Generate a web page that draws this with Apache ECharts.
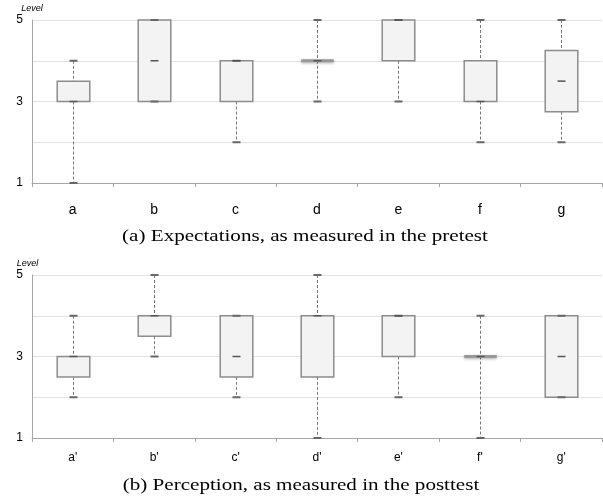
<!DOCTYPE html>
<html>
<head>
<meta charset="utf-8">
<script src="https://cdn.jsdelivr.net/npm/echarts@6/dist/echarts.min.js"></script>
<style>
  html, body { margin: 0; padding: 0; background: #fff; }
  #chart { width: 603px; height: 503px; }
</style>
</head>
<body>
<div id="chart"></div>
<script>
// pretest (expectations)
var preCats = ['a', 'b', 'c', 'd', 'e', 'f', 'g'];
var preMin = [1, 3, 2, 3, 3, 2, 2];
var preQ1 = [3, 3, 3, 4, 4, 3, 2.75];
var preMedian = [3, 4, 4, 4, 5, 3, 3.5];
var preQ3 = [3.5, 5, 4, 4, 5, 4, 4.25];
var preMax = [4, 5, 4, 5, 5, 5, 5];

// posttest (perception)
var postCats = ["a'", "b'", "c'", "d'", "e'", "f'", "g'"];
var postMin = [2, 3, 2, 1, 2, 1, 2];
var postQ1 = [2.5, 3.5, 2.5, 2.5, 3, 3, 2];
var postMedian = [3, 4, 3, 4, 4, 3, 3];
var postQ3 = [3, 4, 4, 4, 4, 3, 4];
var postMax = [4, 5, 4, 5, 4, 4, 4];

var levelTicks = [1, 3, 5];

function rows(mn, q1, md, q3, mx) {
  return mn.map(function (v, i) { return [i, mn[i], q1[i], md[i], q3[i], mx[i]]; });
}

function renderBox(params, api) {
  var x = api.value(0);
  var pMin = api.coord([x, api.value(1)]);
  var pQ1 = api.coord([x, api.value(2)]);
  var pMed = api.coord([x, api.value(3)]);
  var pQ3 = api.coord([x, api.value(4)]);
  var pMax = api.coord([x, api.value(5)]);
  var cx = Math.round(pMed[0]) + 0.5;
  var bw = api.size([1, 0])[0] * 0.4;
  var half = 4;
  var dash = { stroke: '#777', lineWidth: 1, lineDash: [3, 2] };
  var kids = [];
  if (pMax[1] < pQ3[1]) {
    kids.push({ type: 'line', shape: { x1: cx, y1: pMax[1], x2: cx, y2: pQ3[1] }, style: dash });
  }
  if (pMin[1] > pQ1[1]) {
    kids.push({ type: 'line', shape: { x1: cx, y1: pQ1[1], x2: cx, y2: pMin[1] }, style: dash });
  }
  if (Math.abs(pQ1[1] - pQ3[1]) < 0.5) {
    // box with no height: thick shaded bar
    kids.push({
      type: 'line',
      shape: { x1: cx - bw / 2, y1: pQ1[1], x2: cx + bw / 2, y2: pQ1[1] },
      style: { stroke: '#999', lineWidth: 3, shadowBlur: 3, shadowColor: 'rgba(0,0,0,0.3)', shadowOffsetY: 1 }
    });
  } else {
    kids.push({
      type: 'rect',
      shape: { x: cx - bw / 2, y: pQ3[1], width: bw, height: pQ1[1] - pQ3[1] },
      style: { fill: '#f3f3f3', stroke: '#8c8c8c', lineWidth: 1.5 }
    });
  }
  var capStyle = { stroke: '#666', lineWidth: 2 };
  kids.push({ type: 'line', shape: { x1: cx - half, y1: pMax[1], x2: cx + half, y2: pMax[1] }, style: capStyle });
  kids.push({ type: 'line', shape: { x1: cx - half, y1: pMin[1], x2: cx + half, y2: pMin[1] }, style: capStyle });
  kids.push({ type: 'line', shape: { x1: cx - half, y1: pMed[1], x2: cx + half, y2: pMed[1] }, style: { stroke: '#555', lineWidth: 1.5 } });
  return { type: 'group', children: kids };
}

function xAxisFor(idx, cats, size, margin) {
  return {
    type: 'category', gridIndex: idx, data: cats,
    axisLine: { lineStyle: { color: '#a6a6a6' } },
    axisTick: { show: true, length: 4, interval: 0, lineStyle: { color: '#a6a6a6' } },
    axisLabel: { color: '#000', fontSize: size, fontFamily: 'Liberation Sans', margin: margin }
  };
}

function yAxisFor(idx, namePad) {
  return {
    type: 'value', gridIndex: idx, min: 1, max: 5, interval: 1,
    name: 'Level', nameLocation: 'end', nameGap: 7,
    nameTextStyle: { fontSize: 9, fontStyle: 'italic', fontFamily: 'Liberation Sans', color: '#000', padding: namePad },
    axisLine: { show: true, lineStyle: { color: '#a6a6a6' } },
    axisTick: { show: false },
    splitLine: { lineStyle: { color: '#e2e2e2' } },
    axisLabel: {
      color: '#000', fontSize: 12, fontFamily: 'Liberation Sans', margin: 9,
      formatter: function (v) { return levelTicks.indexOf(v) >= 0 ? String(v) : ''; }
    }
  };
}

function caption(text, cx, cy) {
  return {
    type: 'text', x: cx, y: cy, scaleX: 1.24,
    style: {
      text: text, font: '17px "Liberation Serif"', fill: '#000',
      textAlign: 'center', textVerticalAlign: 'middle', align: 'center', verticalAlign: 'middle'
    }
  };
}

var chart = echarts.init(document.getElementById('chart'), null, { renderer: 'canvas' });
chart.setOption({
  animation: false,
  backgroundColor: '#fff',
  graphic: [
    caption('(a) Expectations, as measured in the pretest', 305, 237),
    caption('(b) Perception, as measured in the posttest', 301, 486)
  ],
  grid: [
    { left: 32, right: 1, top: 20, height: 163 },
    { left: 32, right: 1, top: 275, height: 163 }
  ],
  xAxis: [xAxisFor(0, preCats, 14, 20), xAxisFor(1, postCats, 12, 14)],
  yAxis: [yAxisFor(0, 0), yAxisFor(1, [0, 9, 0, 0])],
  series: [
    {
      type: 'custom', xAxisIndex: 0, yAxisIndex: 0,
      renderItem: renderBox,
      encode: { x: 0, y: [1, 2, 3, 4, 5] },
      data: rows(preMin, preQ1, preMedian, preQ3, preMax)
    },
    {
      type: 'custom', xAxisIndex: 1, yAxisIndex: 1,
      renderItem: renderBox,
      encode: { x: 0, y: [1, 2, 3, 4, 5] },
      data: rows(postMin, postQ1, postMedian, postQ3, postMax)
    }
  ]
});
</script>
</body>
</html>
